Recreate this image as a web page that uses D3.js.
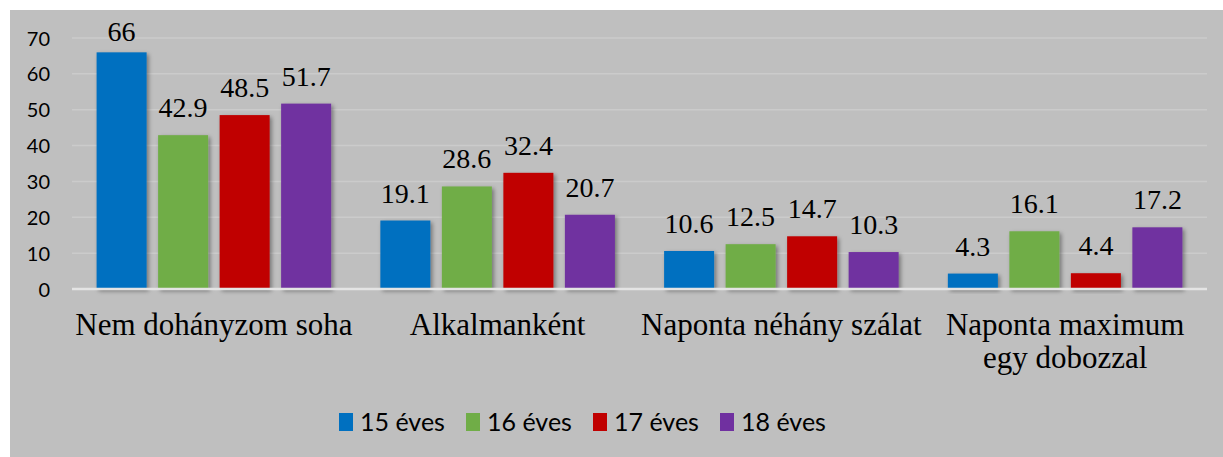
<!DOCTYPE html>
<html><head><meta charset="utf-8">
<script src="https://cdn.jsdelivr.net/npm/d3@7"></script>
<style>html,body{margin:0;padding:0;background:#fff;}svg{display:block;}
.serif{font-family:"Liberation Serif","Times New Roman",serif;}
.sans{font-family:Lato,"Liberation Sans",sans-serif;}
</style>
</head><body>
<script>
const categories = ["Nem dohányzom soha", "Alkalmanként", "Naponta néhány szálat", "Naponta maximum egy dobozzal"];
const categoryLines = [["Nem dohányzom soha"], ["Alkalmanként"], ["Naponta néhány szálat"], ["Naponta maximum", "egy dobozzal"]];
const seriesNames = ["15 éves", "16 éves", "17 éves", "18 éves"];
const s15 = [66, 19.1, 10.6, 4.3];
const s16 = [42.9, 28.6, 12.5, 16.1];
const s17 = [48.5, 32.4, 14.7, 4.4];
const s18 = [51.7, 20.7, 10.3, 17.2];
const yTicks = [0, 10, 20, 30, 40, 50, 60, 70];
const colors = ["#0070c0", "#70ad47", "#c00000", "#7030a0"];
const seriesValues = [s15, s16, s17, s18];

const W = 1223, H = 457;
const svg = d3.select("body").append("svg").attr("width", W).attr("height", H);
const defs = svg.append("defs");
const f = defs.append("filter").attr("id", "sh").attr("x", "-20%").attr("y", "-20%").attr("width", "150%").attr("height", "150%");
f.append("feDropShadow").attr("dx", 2).attr("dy", 2).attr("stdDeviation", 2.2).attr("flood-color", "#000").attr("flood-opacity", 0.4);

svg.append("rect").attr("x", 10).attr("y", 10).attr("width", W - 10).attr("height", H - 10).attr("fill", "#bfbfbf");

const left = 72, right = 1207;
const x0 = d3.scaleBand().domain(categories).range([left, right]).padding(0);
const x1 = d3.scaleBand().domain(seriesNames).range([0, x0.bandwidth()]).paddingInner(0.187).paddingOuter(0.4);
const y = d3.scaleLinear().domain([0, 70]).range([289, 38]);

// gridlines
svg.append("g").selectAll("line").data(yTicks.filter(t => t > 0)).join("line")
  .attr("x1", left).attr("x2", right).attr("y1", d => y(d)).attr("y2", d => y(d))
  .attr("stroke", "#cbcbcb").attr("stroke-width", 1.5);

// y axis
const yAxis = d3.axisLeft(y).tickValues(yTicks).tickSize(0).tickPadding(0);
const ya = svg.append("g").attr("transform", "translate(50,0)").call(yAxis);
ya.select(".domain").remove();
ya.attr("font-family", null).attr("font-size", null);
ya.selectAll("text").attr("class", "sans").style("font-size", "20px").attr("fill", "#000").attr("dy", "0.35em");

// bars
const data = [];
categories.forEach((c, i) => seriesNames.forEach((s, j) => data.push({c, s, v: seriesValues[j][i], color: colors[j]})));
svg.append("g").selectAll("rect").data(data).join("rect")
  .attr("x", d => x0(d.c) + x1(d.s)).attr("width", x1.bandwidth())
  .attr("y", d => y(d.v)).attr("height", d => y(0) - y(d.v))
  .attr("fill", d => d.color).attr("filter", "url(#sh)");

// baseline
svg.append("line").attr("x1", left).attr("x2", right).attr("y1", y(0)).attr("y2", y(0))
  .attr("stroke", "#e4e4e4").attr("stroke-width", 2.5);

// value labels
svg.append("g").selectAll("text").data(data).join("text")
  .attr("class", "serif")
  .attr("x", d => x0(d.c) + x1(d.s) + x1.bandwidth() / 2)
  .attr("y", d => Math.max(y(d.v) - 18, 41))
  .attr("text-anchor", "middle")
  .style("font-size", "28px").attr("fill", "#000")
  .text(d => d.v);

// category labels
const cl = svg.append("g").selectAll("text").data(categories).join("text")
  .attr("class", "serif")
  .attr("x", d => x0(d) + x0.bandwidth() / 2).attr("y", 335)
  .attr("text-anchor", "middle")
  .style("font-size", "31px").attr("fill", "#000");
cl.each(function(d, i) {
  d3.select(this).selectAll("tspan").data(categoryLines[i]).join("tspan")
    .attr("x", x0(d) + x0.bandwidth() / 2).attr("dy", (t, k) => k === 0 ? 0 : 33).text(t => t);
});

// legend
const legendX = [339, 466, 593, 720];
const lg = svg.append("g").selectAll("g").data(seriesNames).join("g")
  .attr("transform", (d, i) => `translate(${legendX[i]},0)`);
lg.append("rect").attr("x", 0).attr("y", 413).attr("width", 14).attr("height", 18).attr("fill", (d, i) => colors[i]);
lg.append("text").attr("class", "sans").attr("x", 21).attr("y", 431)
  .style("font-size", "25px").attr("fill", "#000").text(d => d);
</script>
</body></html>
